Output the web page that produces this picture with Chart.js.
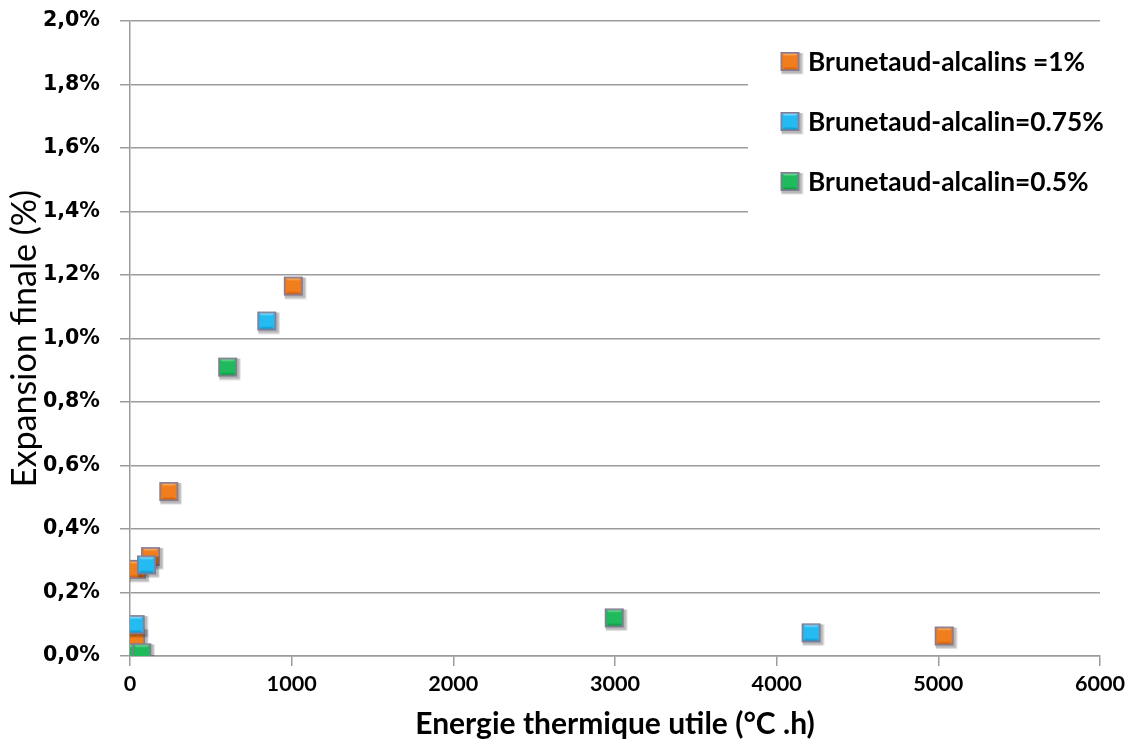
<!DOCTYPE html>
<html>
<head>
<meta charset="utf-8">
<script src="https://cdn.jsdelivr.net/npm/chart.js@4.4.0/dist/chart.umd.min.js"></script>
<style>
  html, body { margin: 0; padding: 0; background: #ffffff; }
  #wrap { width: 1134px; height: 747px; }
</style>
</head>
<body>
<div id="wrap"><canvas id="c" width="1134" height="747" style="width:1134px;height:747px"></canvas></div>
<script>
// ---------- data ----------
const seriesNames = ['Brunetaud-alcalins =1%', 'Brunetaud-alcalin=0.75%', 'Brunetaud-alcalin=0.5%'];
const energy1   = [5, 34, 40, 127, 240, 1010, 5036];
const expansion1 = [0.005, 0.057, 0.273, 0.313, 0.518, 1.165, 0.063];
const energy075   = [32, 102, 846, 4213];
const expansion075 = [0.099, 0.287, 1.055, 0.073];
const energy05   = [15, 73, 604, 2995];
const expansion05 = [0.010, 0.010, 0.910, 0.120];
const xTicks = [0, 1000, 2000, 3000, 4000, 5000, 6000];
const yTicks = [0, 0.2, 0.4, 0.6, 0.8, 1.0, 1.2, 1.4, 1.6, 1.8, 2.0];
const xTitle = 'Energie thermique utile (°C .h)';
const yTitle = 'Expansion finale (%)';

// ---------- helpers ----------
function fitSize(text, weight, family, target) {
  const g = document.createElement('canvas').getContext('2d');
  g.font = weight + ' 100px ' + family;
  return Math.round(1000 * target / g.measureText(text).width) / 10;
}
function makeMarker(base, light, dark, size) {
  const pad = 4;
  const c = document.createElement('canvas');
  c.width = size + 2 * pad; c.height = size + 2 * pad;
  const g = c.getContext('2d');
  const x0 = pad, y0 = pad, x1 = pad + size, y1 = pad + size;
  const cx = (x0 + x1) / 2, cy = (y0 + y1) / 2;
  // soft shadow
  g.fillStyle = 'rgba(0,0,0,0.12)';
  g.fillRect(x0 + 1, y0 + 1, size + 2.5, size + 2.5);
  g.fillStyle = 'rgba(0,0,0,0.18)';
  g.fillRect(x0 + 1, y0 + 1, size + 1.5, size + 1.5);
  // bevel faces
  const tri = (ax, ay, bx, by, col) => {
    g.beginPath(); g.moveTo(ax, ay); g.lineTo(bx, by); g.lineTo(cx, cy); g.closePath();
    g.fillStyle = col; g.fill();
  };
  g.fillStyle = base; g.fillRect(x0, y0, size, size);
  tri(x0, y0, x1, y0, light);
  tri(x0, y1, x1, y1, dark);
  tri(x0, y0, x0, y1, base);
  tri(x1, y0, x1, y1, base);
  // inner plate
  const ins = 3.5;
  g.fillStyle = base;
  g.fillRect(x0 + ins, y0 + ins, size - 2 * ins, size - 2 * ins);
  // border
  g.lineWidth = 1.6;
  g.strokeStyle = '#857a94';
  g.strokeRect(x0 + 0.8, y0 + 0.8, size - 1.6, size - 1.6);
  return c;
}

const colors = [
  { base: '#f07e1c', light: '#f8a455', dark: '#d9660e' },
  { base: '#24bbf2', light: '#74d6fa', dark: '#119fd6' },
  { base: '#1fba5c', light: '#62d68c', dark: '#12a049' }
];
const markers = colors.map(c => makeMarker(c.base, c.light, c.dark, 19));

const legendFont = fitSize(seriesNames[0], 'bold', 'Lato', 277);
const xTitleSize = fitSize(xTitle, 'bold', 'Lato', 400);
const yTitleSize = fitSize(yTitle, 'normal', 'Lato', 298);
const xTickSize = fitSize('1000', 'bold', 'Lato', 50);
const yTickSize = fitSize('2,0%', 'bold', '"DejaVu Sans"', 57);

// ---------- legend drawn inside plot ----------
const boxLegend = {
  id: 'boxLegend',
  beforeDatasetsDraw(chart) {
    const { ctx, chartArea } = chart;
    ctx.save();
    ctx.fillStyle = '#ffffff';
    const left = chartArea.right - 352;
    ctx.fillRect(left, chartArea.top + 4, 352, 190);
    ctx.font = 'bold ' + legendFont + 'px Lato';
    ctx.textBaseline = 'middle';
    ctx.textAlign = 'left';
    ctx.fillStyle = '#000000';
    seriesNames.forEach((name, i) => {
      const cy = chartArea.top + 40.5 + i * 60;
      const m = markers[i];
      ctx.drawImage(m, left + 42 - m.width / 2, cy - m.height / 2);
      ctx.fillText(name, left + 60, cy + 1);
    });
    ctx.restore();
  }
};

const datasets = [
  { label: seriesNames[0], data: energy1.map((x, i) => ({ x, y: expansion1[i] })), pointStyle: markers[0], order: 3 },
  { label: seriesNames[1], data: energy075.map((x, i) => ({ x, y: expansion075[i] })), pointStyle: markers[1], order: 2 },
  { label: seriesNames[2], data: energy05.map((x, i) => ({ x, y: expansion05[i] })), pointStyle: markers[2], order: 1 }
];

const gridCol = '#9c9c9c';

new Chart(document.getElementById('c'), {
  type: 'scatter',
  data: { datasets },
  plugins: [boxLegend],
  options: {
    responsive: false,
    animation: false,
    devicePixelRatio: 1,
    layout: { padding: { left: 0, right: 34, top: 21, bottom: 0 } },
    plugins: { legend: { display: false }, tooltip: { enabled: false } },
    elements: { point: { radius: 9.5, hoverRadius: 9.5 } },
    scales: {
      x: {
        type: 'linear',
        min: 0, max: 6000,
        afterBuildTicks: s => { s.ticks = xTicks.map(v => ({ value: v })); },
        afterFit: s => { s.height = 91; },
        grid: { drawOnChartArea: false, drawTicks: true, tickLength: 10, color: gridCol, lineWidth: 1.5 },
        border: { display: true, color: gridCol, width: 1.5 },
        ticks: {
          padding: 5,
          color: '#000000',
          font: { family: 'Lato', weight: 'bold', size: xTickSize },
          callback: v => String(v),
          maxRotation: 0
        },
        title: {
          display: true,
          text: xTitle,
          color: '#000000',
          font: { family: 'Lato', weight: 'bold', size: xTitleSize, lineHeight: 1.2 },
          padding: { top: 0, bottom: 23 - xTitleSize * 0.6 }
        }
      },
      y: {
        type: 'linear',
        min: 0, max: 2,
        afterBuildTicks: s => { s.ticks = yTicks.map(v => ({ value: v })); },
        afterFit: s => { s.width = 130; s.paddingTop = 0; s.paddingBottom = 0; },
        grid: { drawOnChartArea: true, drawTicks: true, tickLength: 10, color: gridCol, lineWidth: 1.5 },
        border: { display: true, color: gridCol, width: 1.5 },
        ticks: {
          padding: 20,
          color: '#000000',
          font: { family: '"DejaVu Sans"', weight: 'bold', size: yTickSize },
          callback: v => v.toFixed(1).replace('.', ',') + '%'
        },
        title: {
          display: true,
          text: yTitle,
          color: '#000000',
          font: { family: 'Lato', weight: 'normal', size: yTitleSize, lineHeight: 1.2 },
          padding: { top: 25 - yTitleSize * 0.6, bottom: 0 }
        }
      }
    }
  }
});
</script>
</body>
</html>
